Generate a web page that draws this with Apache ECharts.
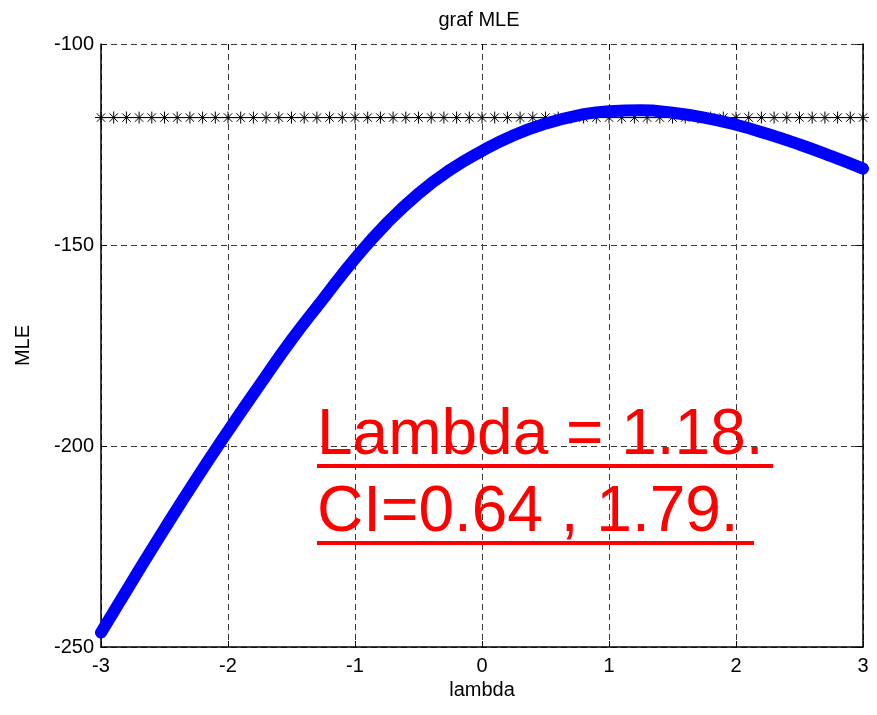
<!DOCTYPE html>
<html>
<head>
<meta charset="utf-8">
<title>graf MLE</title>
<script src="https://cdn.jsdelivr.net/npm/echarts@6/dist/echarts.min.js"></script>
<style>
  html, body { margin: 0; padding: 0; background: #fff; }
  #chart { width: 877px; height: 715px; }
</style>
</head>
<body>
<div id="chart"></div>
<script>
// Profile log-likelihood of the Box-Cox parameter lambda
const lambdaValues = [-3, -2.75, -2.5, -2.25, -2, -1.75, -1.5, -1.25, -1, -0.75, -0.5, -0.25,
  0, 0.25, 0.5, 0.75, 1, 1.25, 1.5, 1.75, 2, 2.25, 2.5, 2.75, 3];
const mleValues = [-246.4, -233.4, -220.6, -208.2, -196.3, -184.8, -173.6, -163.4, -153.4, -144.6, -137.2, -131.3,
  -126.6, -122.7, -119.8, -117.8, -116.7, -116.5, -117.1, -118.3, -120.1, -122.4, -125.0, -127.9, -131.0];

// Confidence cut-off level, marked along the whole lambda range
const cutoffLambda = [-3, -2.9, -2.8, -2.7, -2.6, -2.5, -2.4, -2.3, -2.2, -2.1, -2, -1.9, -1.8, -1.7, -1.6,
  -1.5, -1.4, -1.3, -1.2, -1.1, -1, -0.9, -0.8, -0.7, -0.6, -0.5, -0.4, -0.3, -0.2, -0.1, 0,
  0.1, 0.2, 0.3, 0.4, 0.5, 0.6, 0.7, 0.8, 0.9, 1, 1.1, 1.2, 1.3, 1.4, 1.5, 1.6, 1.7, 1.8, 1.9, 2,
  2.1, 2.2, 2.3, 2.4, 2.5, 2.6, 2.7, 2.8, 2.9, 3];
const cutoffLevel = -118.3;

// Estimate and interval
const lambdaHat = '1.18';
const ciLow = '0.64';
const ciHigh = '1.79';

const xTicks = { min: -3, max: 3, interval: 1 };
const yTicks = { min: -250, max: -100, interval: 50 };

const FONT = '"Liberation Sans", Arial, Helvetica, sans-serif';
const gridDash = { color: '#3a3a3a', width: 1, type: [6, 4] };
const asterisk = 'path://M0,-6L0,6M-6,0L6,0M-4.2,-4.2L4.2,4.2M-4.2,4.2L4.2,-4.2';

const chart = echarts.init(document.getElementById('chart'), null, { renderer: 'canvas' });

const baseX = {
  type: 'value', min: xTicks.min, max: xTicks.max, interval: xTicks.interval
};
const baseY = {
  type: 'value', min: yTicks.min, max: yTicks.max, interval: yTicks.interval
};

chart.setOption({
  animation: false,
  backgroundColor: '#fff',
  grid: { left: 101, right: 14, top: 44, bottom: 68, containLabel: false },
  xAxis: [
    Object.assign({}, baseX, {
      position: 'bottom',
      name: 'lambda', nameLocation: 'middle', nameGap: 33,
      nameTextStyle: { fontFamily: FONT, fontSize: 20, color: '#000' },
      axisLine: { show: true, onZero: false, lineStyle: { color: '#000', width: 1.5 } },
      axisTick: { show: true, inside: true, length: 6, lineStyle: { color: '#000' } },
      axisLabel: { margin: 9, fontFamily: FONT, fontSize: 20, color: '#000' },
      splitLine: { show: true, lineStyle: gridDash }
    }),
    Object.assign({}, baseX, {
      position: 'top',
      axisLine: { show: false },
      axisTick: { show: true, inside: true, length: 6, lineStyle: { color: '#000' } },
      axisLabel: { show: false },
      splitLine: { show: false }
    })
  ],
  yAxis: [
    Object.assign({}, baseY, {
      position: 'left',
      name: 'MLE', nameLocation: 'middle', nameGap: 68, nameRotate: 90,
      nameTextStyle: { fontFamily: FONT, fontSize: 20, color: '#000' },
      axisLine: { show: true, onZero: false, lineStyle: { color: '#000', width: 1.5 } },
      axisTick: { show: true, inside: true, length: 6, lineStyle: { color: '#000' } },
      axisLabel: { margin: 7, fontFamily: FONT, fontSize: 20, color: '#000' },
      splitLine: { show: true, lineStyle: gridDash }
    }),
    Object.assign({}, baseY, {
      position: 'right',
      axisLine: { show: true, onZero: false, lineStyle: { color: '#000', width: 1.5 } },
      axisTick: { show: true, inside: true, length: 6, lineStyle: { color: '#000' } },
      axisLabel: { show: false },
      splitLine: { show: false }
    })
  ],
  series: [
    {
      name: 'cutoff',
      type: 'line',
      xAxisIndex: 0, yAxisIndex: 0,
      data: cutoffLambda.map(x => [x, cutoffLevel]),
      clip: false,
      symbol: asterisk,
      symbolSize: 12,
      showAllSymbol: true,
      itemStyle: { color: 'none', borderColor: '#000', borderWidth: 1 },
      lineStyle: { color: '#000', width: 1 },
      z: 3
    },
    {
      name: 'MLE',
      type: 'line',
      xAxisIndex: 0, yAxisIndex: 0,
      data: lambdaValues.map((x, i) => [x, mleValues[i]]),
      smooth: 0.5,
      clip: false,
      showSymbol: false,
      lineStyle: { color: '#0000ff', width: 12, cap: 'round', join: 'round' },
      z: 4
    }
  ],
  graphic: [
    {
      // plot title, centred over the axes box
      type: 'text', x: 479, y: 20, z: 10,
      style: {
        text: 'graf MLE', align: 'center', verticalAlign: 'middle',
        font: 'normal 20px ' + FONT, fill: '#000'
      }
    },
    {
      type: 'text', left: 317, top: 404, z: 10,
      style: {
        text: 'Lambda = ' + lambdaHat + '.',
        font: 'normal 64px ' + FONT, fill: '#ff0000'
      }
    },
    {
      type: 'line', z: 10,
      shape: { x1: 317, y1: 466, x2: 773, y2: 466 },
      style: { stroke: '#ff0000', lineWidth: 4 }
    },
    {
      type: 'text', left: 317, top: 481, z: 10,
      style: {
        text: 'CI=' + ciLow + ' , ' + ciHigh + '.',
        font: 'normal 64px ' + FONT, fill: '#ff0000'
      }
    },
    {
      type: 'line', z: 10,
      shape: { x1: 317, y1: 543, x2: 754, y2: 543 },
      style: { stroke: '#ff0000', lineWidth: 4 }
    }
  ]
});
</script>
</body>
</html>
